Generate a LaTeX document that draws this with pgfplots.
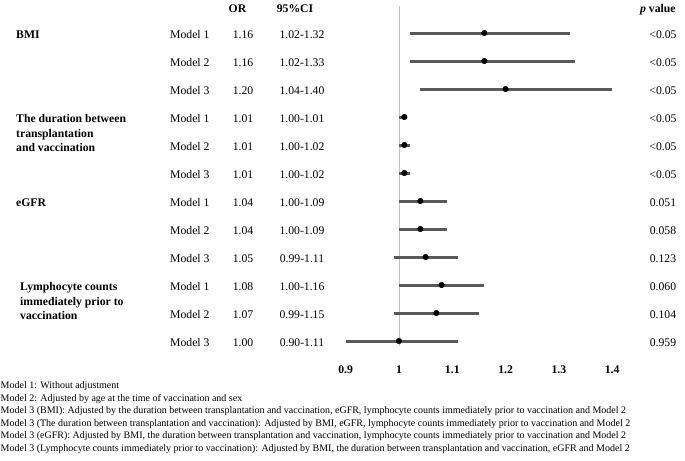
\documentclass[border=0pt]{standalone}
\usepackage{fontspec}
\setmainfont{Liberation Serif}
\usepackage{pgfplots}
\usepackage{pgfplotstable}
\pgfplotsset{compat=1.18}
\definecolor{ciGray}{HTML}{595959}
\definecolor{refGray}{HTML}{C0C0C0}
\newcommand\mainfs{\fontsize{11.7bp}{14bp}\selectfont}
\newcommand\footfs{\fontsize{10bp}{12.5bp}\selectfont}

% y = 13 - row
\pgfplotstableread{
y   or    lo    hi
12  1.16  1.02  1.32
11  1.16  1.02  1.33
10  1.20  1.04  1.40
9   1.01  1.00  1.01
8   1.01  1.00  1.02
7   1.01  1.00  1.02
6   1.04  1.00  1.09
5   1.04  1.00  1.09
4   1.05  0.99  1.11
3   1.08  1.00  1.16
2   1.07  0.99  1.15
1   1.00  0.90  1.11
}\forestdata

\begin{document}
\begin{tikzpicture}
\useasboundingbox (0,0) rectangle (685bp,-461bp);
\begin{axis}[
  at={(345.7bp,-357.8bp)}, anchor=south west,
  scale only axis, width=266.5bp, height=351.68bp,
  xmin=0.9, xmax=1.4, ymin=0.4, ymax=12.96,
  axis line style={draw=none},
  xtick={0.9,1.0,1.1,1.2,1.3,1.4},
  xticklabels={0.9,1,1.1,1.2,1.3,1.4},
  xticklabel style={font=\mainfs\bfseries, yshift=-4bp},
  ytick=\empty,
  major tick length=0pt,
  clip=false,
]
\draw[refGray, line width=1bp] (axis cs:1,0.82) -- (axis cs:1,12.96);
\addplot[draw=none, mark=none, forget plot,
  error bars/.cd, x dir=both, x explicit,
  error mark=none,
  error bar style={draw=ciGray, line width=3bp}]
  table[x=or, y=y,
    x error plus expr=\thisrow{hi}-\thisrow{or},
    x error minus expr=\thisrow{or}-\thisrow{lo}] {\forestdata};
\addplot[only marks, mark=*, mark size=2.8bp, black] table[x=or, y=y] {\forestdata};
\end{axis}

% headers
\node[anchor=base, font=\mainfs\bfseries, inner sep=0pt] at (237.5bp,-12.5bp) {OR};
\node[anchor=base, font=\mainfs\bfseries, inner sep=0pt] at (295bp,-12.5bp) {95\%CI};
\node[anchor=base west, font=\mainfs\bfseries, inner sep=0pt] at (640bp,-12.5bp) {\textit{p} value};

% group labels
\node[anchor=base west, font=\mainfs\bfseries, inner sep=0pt] at (16bp,-38.5bp) {BMI};
\node[anchor=base west, font=\mainfs\bfseries, inner sep=0pt] at (16bp,-122.5bp) {The duration between};
\node[anchor=base west, font=\mainfs\bfseries, inner sep=0pt] at (16bp,-137bp) {transplantation};
\node[anchor=base west, font=\mainfs\bfseries, inner sep=0pt] at (16bp,-151.5bp) {and vaccination};
\node[anchor=base west, font=\mainfs\bfseries, inner sep=0pt] at (16bp,-206.5bp) {eGFR};
\node[anchor=base west, font=\mainfs\bfseries, inner sep=0pt] at (20bp,-290.5bp) {Lymphocyte counts};
\node[anchor=base west, font=\mainfs\bfseries, inner sep=0pt] at (20bp,-305bp) {immediately prior to};
\node[anchor=base west, font=\mainfs\bfseries, inner sep=0pt] at (20bp,-319.5bp) {vaccination};

% rows
\foreach \i/\m/\o/\c/\p in {
  1/1/1.16/1.02-1.32/{<0.05},
  2/2/1.16/1.02-1.33/{<0.05},
  3/3/1.20/1.04-1.40/{<0.05},
  4/1/1.01/1.00-1.01/{<0.05},
  5/2/1.01/1.00-1.02/{<0.05},
  6/3/1.01/1.00-1.02/{<0.05},
  7/1/1.04/1.00-1.09/0.051,
  8/2/1.04/1.00-1.09/0.058,
  9/3/1.05/0.99-1.11/0.123,
  10/1/1.08/1.00-1.16/0.060,
  11/2/1.07/0.99-1.15/0.104,
  12/3/1.00/0.90-1.11/0.959}{
  \node[anchor=base west, font=\mainfs, inner sep=0pt] at (170bp,{-38.5bp-(\i-1)*28bp}) {Model \m};
  \node[anchor=base, font=\mainfs, inner sep=0pt] at (243bp,{-38.5bp-(\i-1)*28bp}) {\o};
  \node[anchor=base, font=\mainfs, inner sep=0pt] at (302bp,{-38.5bp-(\i-1)*28bp}) {\c};
  \node[anchor=base, font=\mainfs, inner sep=0pt] at (663bp,{-38.5bp-(\i-1)*28bp}) {\p};
}

% footnotes
\node[anchor=base west, font=\footfs, inner sep=0pt] at (0.5bp,-388.5bp) {Model 1: Without adjustment};
\node[anchor=base west, font=\footfs, inner sep=0pt] at (0.5bp,-401bp) {Model 2: Adjusted by age at the time of vaccination and sex};
\node[anchor=base west, font=\footfs, inner sep=0pt] at (0.5bp,-413.5bp) {Model 3 (BMI): Adjusted by the duration between transplantation and vaccination, eGFR, lymphocyte counts immediately prior to vaccination and Model 2};
\node[anchor=base west, font=\footfs, inner sep=0pt] at (0.5bp,-426bp) {Model 3 (The duration between transplantation and vaccination): Adjusted by BMI, eGFR, lymphocyte counts immediately prior to vaccination and Model 2};
\node[anchor=base west, font=\footfs, inner sep=0pt] at (0.5bp,-438.5bp) {Model 3 (eGFR): Adjusted by BMI, the duration between transplantation and vaccination, lymphocyte counts immediately prior to vaccination and Model 2};
\node[anchor=base west, font=\footfs, inner sep=0pt] at (0.5bp,-451bp) {Model 3 (Lymphocyte counts immediately prior to vaccination): Adjusted by BMI, the duration between transplantation and vaccination, eGFR and Model 2};
\end{tikzpicture}
\end{document}
